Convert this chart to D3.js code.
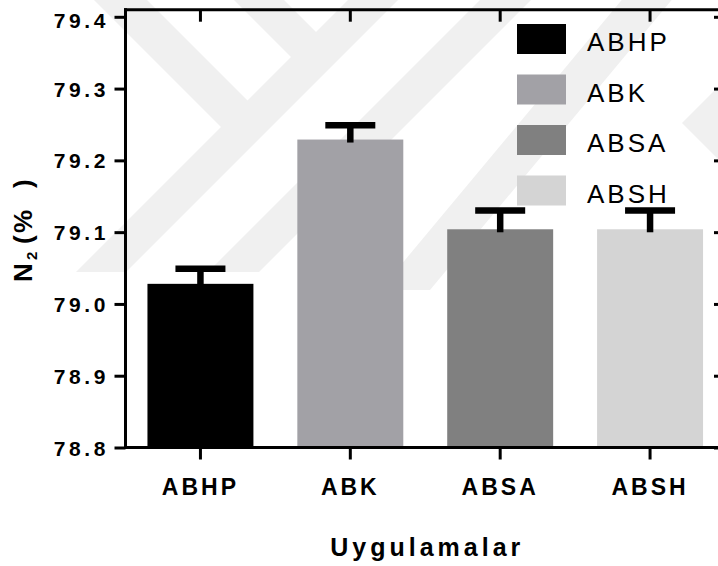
<!DOCTYPE html>
<html>
<head>
<meta charset="utf-8">
<script src="https://cdn.jsdelivr.net/npm/d3@7"></script>
<style>
  html, body { margin: 0; padding: 0; background: #ffffff; }
  svg { display: block; }
  text { font-family: "Liberation Sans", Arial, sans-serif; }
</style>
</head>
<body>
<svg id="chart" width="718" height="566"></svg>
<script>
// Group means and their upper error (SEM) for nitrogen content
const categories = ["ABHP", "ABK", "ABSA", "ABSH"];
const means = [79.028, 79.229, 79.104, 79.104];
const errors = [0.021, 0.020, 0.026, 0.026];
const barColors = ["#000000", "#a2a1a6", "#808080", "#d4d4d4"];
const yTicks = [78.8, 78.9, 79.0, 79.1, 79.2, 79.3, 79.4];
const yDomain = [78.8, 79.4];
const xTitle = "Uygulamalar";

(function () {
const svg = d3.select("#chart");

// plot frame
const plotLeft = 125.5, plotRight = 725, plotBottom = 447.5, plotTop = 16.8, frameTop = 9.7;

// faint backdrop emblem made of diagonal bands
const backdrop = [
  [[84, -10], [137, -10], [260, 113], [233.5, 139.5]],
  [[224, -10], [274, -10], [328.5, 44.5], [303.5, 69.5]],
  [[76, 272], [126, 272], [408, -10], [358, -10]],
  [[208, 272], [259, 272], [541, -10], [490, -10]],
  [[380, 290], [430, 290], [680, -10], [630, -10]],
  [[682, 123], [815, -10], [865, -10], [732, 123], [1009, 400], [959, 400]]
];
svg.append("g")
  .selectAll("path")
  .data(backdrop)
  .join("path")
  .attr("d", d => "M" + d.map(p => p.join(",")).join("L") + "Z")
  .attr("fill", "#f0f0f0");

const x = d3.scaleBand()
  .domain(categories)
  .range([plotLeft, plotRight])
  .paddingInner(0.293)
  .paddingOuter(0.1465);

const y = d3.scaleLinear().domain(yDomain).range([plotBottom, plotTop]);

// bars
svg.append("g")
  .selectAll("rect")
  .data(categories)
  .join("rect")
  .attr("x", d => x(d))
  .attr("width", x.bandwidth())
  .attr("y", (d, i) => y(means[i]))
  .attr("height", (d, i) => y(yDomain[0]) - y(means[i]))
  .attr("fill", (d, i) => barColors[i]);

// upper error bars
const err = svg.append("g").attr("stroke", "#000").attr("stroke-width", 6.5);
categories.forEach((c, i) => {
  const cx = x(c) + x.bandwidth() / 2;
  err.append("line")
    .attr("x1", cx).attr("x2", cx)
    .attr("y1", y(means[i]) + 3).attr("y2", y(means[i] + errors[i]));
  err.append("line")
    .attr("x1", cx - 25).attr("x2", cx + 25)
    .attr("y1", y(means[i] + errors[i])).attr("y2", y(means[i] + errors[i]));
});

// axes
const styleAxis = g => {
  g.select(".domain").remove();
  g.selectAll(".tick line").attr("stroke", "#000").attr("stroke-width", 3);
};

const yAxis = svg.append("g")
  .attr("transform", `translate(${plotLeft},0)`)
  .call(d3.axisLeft(y).tickValues(yTicks).tickSize(11).tickPadding(5.5)
    .tickFormat(d3.format(".1f")))
  .call(styleAxis);
yAxis.selectAll(".tick text")
  .attr("fill", "#000")
  .attr("font-size", 21)
  .attr("font-weight", "bold")
  .attr("letter-spacing", "3.6px")
  .attr("dy", d => d === yDomain[1] ? "0.5em" : "0.36em");

svg.append("g")
  .attr("transform", `translate(${plotRight},0)`)
  .call(d3.axisRight(y).tickValues(yTicks).tickSize(-11).tickFormat(""))
  .call(styleAxis);

const xAxis = svg.append("g")
  .attr("transform", `translate(0,${plotBottom})`)
  .call(d3.axisBottom(x).tickSize(12).tickPadding(0))
  .call(styleAxis);
xAxis.selectAll(".tick text")
  .attr("fill", "#000")
  .attr("font-size", 23)
  .attr("font-weight", "bold")
  .attr("letter-spacing", "3px")
  .attr("y", 47.5)
  .attr("dy", 0);

svg.append("g")
  .attr("transform", `translate(0,${frameTop})`)
  .call(d3.axisTop(x).tickSize(-12).tickFormat(""))
  .call(styleAxis);

// frame lines
const frame = svg.append("g").attr("stroke", "#000").attr("stroke-width", 3).attr("fill", "none");
frame.append("line").attr("x1", plotLeft).attr("x2", plotLeft).attr("y1", frameTop - 1.5).attr("y2", plotBottom + 1.5);
frame.append("line").attr("x1", plotLeft - 1.5).attr("x2", plotRight).attr("y1", plotBottom).attr("y2", plotBottom);
frame.append("line").attr("x1", plotLeft - 1.5).attr("x2", plotRight).attr("y1", frameTop).attr("y2", frameTop);
frame.append("line").attr("x1", plotRight).attr("x2", plotRight).attr("y1", frameTop).attr("y2", plotBottom);

// axis titles
svg.append("text")
  .attr("x", (plotLeft + plotRight) / 2 + 2)
  .attr("y", 556)
  .attr("text-anchor", "middle")
  .attr("font-size", 25)
  .attr("font-weight", "bold")
  .attr("letter-spacing", "4px")
  .text(xTitle);

const yt = svg.append("text")
  .attr("transform", "translate(32,282) rotate(-90)")
  .attr("font-size", 26)
  .attr("font-weight", "bold");
yt.append("tspan").attr("x", 0).text("N");
yt.append("tspan").attr("x", 22).attr("dy", 5).attr("font-size", 15).text("2");
yt.append("tspan").attr("x", 38).attr("dy", -5).text("(");
yt.append("tspan").attr("x", 49).text("%");
yt.append("tspan").attr("x", 94).text(")");

// legend
const legend = svg.append("g");
categories.forEach((c, i) => {
  const ly = 24 + i * 50.5;
  legend.append("rect")
    .attr("x", 517).attr("y", ly)
    .attr("width", 49).attr("height", 30)
    .attr("fill", barColors[i]);
  legend.append("text")
    .attr("x", 587).attr("y", ly + 27)
    .attr("font-size", 26)
    .attr("letter-spacing", "3px")
    .attr("fill", "#000")
    .text(c);
});
})();
</script>
</body>
</html>
